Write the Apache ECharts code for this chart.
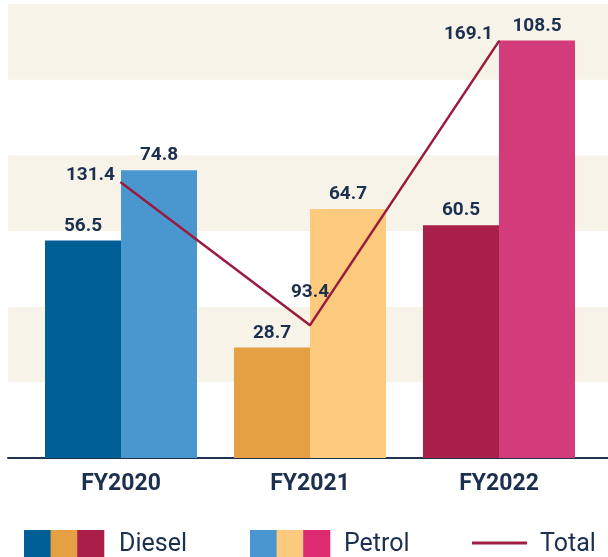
<!DOCTYPE html>
<html>
<head>
    <meta charset="UTF-8">
    <title>Diesel / Petrol</title>
    <style>
        html, body {
            margin: 0;
            padding: 0;
            background-color: #FFF;
        }
    </style>
</head>
<body>
<div id="main" style="width: 608px; height: 557px"></div>

<script src="https://cdn.jsdelivr.net/npm/echarts@6/dist/echarts.min.js"></script>
<script type="text/javascript">
    var categories = ['FY2020', 'FY2021', 'FY2022'];
    var diesel = [56.5, 28.7, 60.5];
    var petrol = [74.8, 64.7, 108.5];
    var total = [131.4, 93.4, 169.1];

    var dieselColors = ['#015f98', '#e4a043', '#aa1e4a'];
    var petrolColors = ['#4a96cf', '#fdca7e', '#d43b7a'];
    var legendPetrol = ['#4a96d0', '#fdc97e', '#dc2b6e'];
    var lineColor = '#9b1a3e';
    var navy = '#1b2f4f';
    var font = 'Roboto';

    // bars carry their own colour per year
    function colored(values, colors) {
        return values.map(function (v, i) {
            return {value: v, itemStyle: {color: colors[i]}};
        });
    }

    // total labels: left of point except the middle one, which sits above
    var totalData = total.map(function (v, i) {
        var lbl = i == 1
            ? {position: 'top', offset: [0, -17]}
            : {position: 'left', offset: [0, -7]};
        return {value: v, label: lbl};
    });

    var labelStyle = {
        show: true,
        color: navy,
        fontFamily: font,
        fontWeight: 'bold',
        fontSize: 19
    };

    // legend drawn by hand: three swatches per fuel
    var graphics = [];
    var sw = 26.6;
    dieselColors.forEach(function (c, i) {
        graphics.push({type: 'rect', left: 24 + i * sw, top: 530, shape: {width: sw + 0.5, height: 27}, style: {fill: c}});
    });
    legendPetrol.forEach(function (c, i) {
        graphics.push({type: 'rect', left: 250 + i * sw, top: 530, shape: {width: sw + 0.5, height: 27}, style: {fill: c}});
    });
    graphics.push({type: 'line', shape: {x1: 472, y1: 543, x2: 527, y2: 543}, style: {stroke: '#a01d45', lineWidth: 3}});
    [['Diesel', 119], ['Petrol', 344], ['Total', 540]].forEach(function (t) {
        graphics.push({
            type: 'text', x: t[1], y: 545,
            style: {text: t[0], fill: navy, font: '25px Roboto', verticalAlign: 'middle'}
        });
    });

    var mCharts = echarts.init(document.getElementById('main'));
    mCharts.setOption({
        animation: false,
        grid: [
            {left: 8, right: 0, top: 4, bottom: 99},
            {left: 26.5, right: 14.5, top: 4, bottom: 99}
        ],
        xAxis: [{
            gridIndex: 0,
            type: 'value',
            min: 0,
            max: 1,
            axisLine: {show: true, onZero: false, lineStyle: {color: '#1f3550', width: 2}},
            axisTick: {show: false},
            axisLabel: {show: false},
            splitLine: {show: false}
        }, {
            gridIndex: 1,
            type: 'category',
            data: categories,
            axisLine: {show: false},
            axisTick: {show: false},
            axisLabel: {
                color: navy,
                fontFamily: font,
                fontWeight: 'bold',
                fontSize: 23,
                margin: 15
            }
        }],
        yAxis: [{
            gridIndex: 0,
            type: 'value',
            min: 0,
            max: 6,
            interval: 1,
            axisLine: {show: false},
            axisTick: {show: false},
            axisLabel: {show: false},
            splitLine: {show: false},
            splitArea: {show: true, areaStyle: {color: ['#ffffff', '#f8f3e9']}}
        }, {
            gridIndex: 1,
            type: 'value',
            min: 0,
            max: 118,
            show: false,
            splitLine: {show: false}
        }, {
            gridIndex: 1,
            type: 'value',
            min: 58,
            max: 179,
            show: false,
            splitLine: {show: false}
        }],
        series: [{
            name: 'Diesel',
            type: 'bar',
            xAxisIndex: 1,
            yAxisIndex: 1,
            barWidth: 76,
            barGap: '0%',
            data: colored(diesel, dieselColors),
            label: Object.assign({position: 'top', distance: 5}, labelStyle)
        }, {
            name: 'Petrol',
            type: 'bar',
            xAxisIndex: 1,
            yAxisIndex: 1,
            barWidth: 76,
            barGap: '0%',
            data: colored(petrol, petrolColors),
            label: Object.assign({position: 'top', distance: 5}, labelStyle)
        }, {
            name: 'Total',
            type: 'line',
            xAxisIndex: 1,
            yAxisIndex: 2,
            symbol: 'circle',
            symbolSize: 2,
            showSymbol: true,
            z: 5,
            itemStyle: {color: lineColor},
            lineStyle: {color: lineColor, width: 2.5},
            data: totalData,
            label: Object.assign({distance: 5}, labelStyle)
        }],
        graphic: graphics
    });
</script>
</body>
</html>
